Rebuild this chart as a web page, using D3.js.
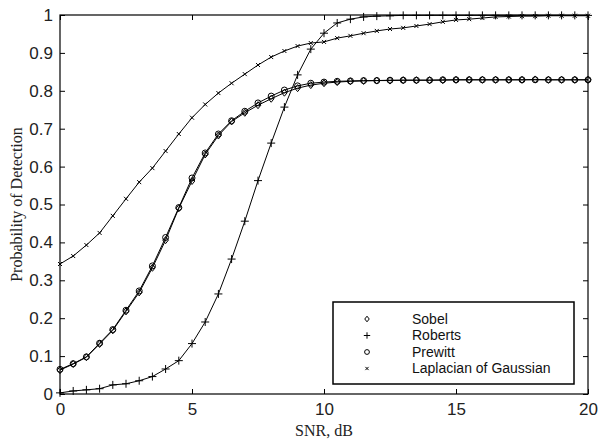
<!DOCTYPE html>
<html>
<head>
<meta charset="utf-8">
<script src="https://cdn.jsdelivr.net/npm/d3@7"></script>
<style>
  body { margin: 0; background: #fff; }
  svg { display: block; }
</style>
</head>
<body>
<div id="chart"></div>
<script>
const snr = [0, 0.5, 1, 1.5, 2, 2.5, 3, 3.5, 4, 4.5, 5, 5.5, 6, 6.5, 7, 7.5, 8, 8.5, 9, 9.5, 10,
  10.5, 11, 11.5, 12, 12.5, 13, 13.5, 14, 14.5, 15, 15.5, 16, 16.5, 17, 17.5, 18, 18.5, 19, 19.5, 20];

const sobel = [0.063, 0.079, 0.097, 0.132, 0.168, 0.218, 0.268, 0.333, 0.406, 0.490, 0.562, 0.632, 0.682,
  0.719, 0.742, 0.762, 0.779, 0.795, 0.807, 0.815, 0.820, 0.823, 0.825, 0.826, 0.827, 0.827, 0.828, 0.828,
  0.828, 0.828, 0.829, 0.829, 0.829, 0.829, 0.829, 0.829, 0.830, 0.829, 0.829, 0.829, 0.829];

const roberts = [0.003, 0.008, 0.011, 0.014, 0.024, 0.027, 0.035, 0.046, 0.066, 0.088, 0.133, 0.19, 0.264,
  0.356, 0.456, 0.563, 0.662, 0.757, 0.842, 0.910, 0.952, 0.979, 0.989, 0.995, 0.997, 0.998, 0.999, 0.999,
  0.999, 0.999, 0.999, 0.999, 0.999, 0.999, 0.999, 0.999, 0.999, 0.999, 0.999, 0.999, 0.999];

const prewitt = [0.065, 0.080, 0.098, 0.134, 0.170, 0.221, 0.272, 0.338, 0.413, 0.492, 0.570, 0.636, 0.686,
  0.721, 0.746, 0.768, 0.786, 0.802, 0.813, 0.820, 0.823, 0.825, 0.826, 0.827, 0.827, 0.828, 0.828, 0.828,
  0.828, 0.829, 0.829, 0.829, 0.829, 0.829, 0.829, 0.829, 0.829, 0.829, 0.829, 0.829, 0.829];

const laplacian = [0.343, 0.364, 0.393, 0.425, 0.470, 0.515, 0.559, 0.596, 0.641, 0.686, 0.729, 0.764, 0.794,
  0.820, 0.844, 0.868, 0.889, 0.905, 0.918, 0.926, 0.929, 0.939, 0.945, 0.952, 0.958, 0.963, 0.966, 0.971,
  0.976, 0.982, 0.987, 0.989, 0.992, 0.995, 0.996, 0.997, 0.997, 0.998, 0.998, 0.998, 0.998];

const seriesNames = ["Sobel", "Roberts", "Prewitt", "Laplacian of Gaussian"];
const seriesMarkers = ["diamond", "plus", "circle", "cross"];
const seriesValues = [sobel, roberts, prewitt, laplacian];

const xTicks = [0, 5, 10, 15, 20];
const yTicks = [0, 0.1, 0.2, 0.3, 0.4, 0.5, 0.6, 0.7, 0.8, 0.9, 1];

const W = 600, H = 442;
const margin = { top: 15, right: 12, bottom: 48, left: 60 };
const width = W - margin.left - margin.right;
const height = H - margin.top - margin.bottom;

const svg = d3.select("#chart")
  .append("svg")
  .attr("width", W)
  .attr("height", H);

const g = svg.append("g")
  .attr("transform", `translate(${margin.left},${margin.top})`);

const x = d3.scaleLinear().domain([0, 20]).range([0, width]);
const y = d3.scaleLinear().domain([0, 1]).range([height, 0]);

// ticks pointing inward on all four sides
function styleAxis(sel) {
  sel.select(".domain").remove();
  sel.selectAll(".tick line").attr("stroke", "#000");
  sel.selectAll(".tick text")
    .attr("fill", "#222")
    .style("font-family", "Liberation Sans, Arial, sans-serif")
    .style("font-size", "17px");
}

g.append("g")
  .attr("transform", `translate(0,${height})`)
  .call(d3.axisBottom(x).tickValues(xTicks).tickSizeInner(-5).tickSizeOuter(0).tickPadding(9).tickFormat(d3.format("d")))
  .call(styleAxis);

g.append("g")
  .call(d3.axisTop(x).tickValues(xTicks).tickSizeInner(-5).tickSizeOuter(0).tickFormat(""))
  .call(styleAxis);

g.append("g")
  .call(d3.axisLeft(y).tickValues(yTicks).tickSizeInner(-5).tickSizeOuter(0).tickPadding(7).tickFormat(d => d === 0 || d === 1 ? d : d3.format(".1f")(d)))
  .call(styleAxis);

g.append("g")
  .attr("transform", `translate(${width},0)`)
  .call(d3.axisRight(y).tickValues(yTicks).tickSizeInner(-5).tickSizeOuter(0).tickFormat(""))
  .call(styleAxis);

// lines
const line = d3.line()
  .x((d, i) => x(snr[i]))
  .y(d => y(d));

seriesValues.forEach(vals => {
  g.append("path")
    .datum(vals)
    .attr("fill", "none")
    .attr("stroke", "#000")
    .attr("stroke-width", 1)
    .attr("d", line);
});

function drawMarker(sel, type, cx, cy, s) {
  if (type === "diamond") {
    sel.append("path")
      .attr("d", `M${cx},${cy - 3.5 * s}L${cx + 2.8 * s},${cy}L${cx},${cy + 3.5 * s}L${cx - 2.8 * s},${cy}Z`)
      .attr("fill", "none").attr("stroke", "#000").attr("stroke-width", 1);
  } else if (type === "circle") {
    sel.append("circle")
      .attr("cx", cx).attr("cy", cy).attr("r", 3 * s)
      .attr("fill", "none").attr("stroke", "#000").attr("stroke-width", 1);
  } else if (type === "plus") {
    sel.append("path")
      .attr("d", `M${cx - 4 * s},${cy}H${cx + 4 * s}M${cx},${cy - 4 * s}V${cy + 4 * s}`)
      .attr("stroke", "#000").attr("stroke-width", 1);
  } else if (type === "cross") {
    sel.append("path")
      .attr("d", `M${cx - 2 * s},${cy - 2 * s}L${cx + 2 * s},${cy + 2 * s}M${cx - 2 * s},${cy + 2 * s}L${cx + 2 * s},${cy - 2 * s}`)
      .attr("stroke", "#000").attr("stroke-width", 1);
  }
}

seriesValues.forEach((vals, k) => {
  const mg = g.append("g");
  vals.forEach((v, i) => drawMarker(mg, seriesMarkers[k], x(snr[i]), y(v), 1));
});

// frame
g.append("rect")
  .attr("width", width)
  .attr("height", height)
  .attr("fill", "none")
  .attr("stroke", "#000")
  .attr("stroke-width", 1.2);

// legend
const lg = svg.append("g").attr("transform", "translate(333,302)");
lg.append("rect")
  .attr("width", 241)
  .attr("height", 82)
  .attr("fill", "#fff")
  .attr("stroke", "#000")
  .attr("stroke-width", 1.5);

seriesNames.forEach((name, k) => {
  const cy = 17 + k * 16.5;
  drawMarker(lg, seriesMarkers[k], 34, cy, 0.8);
  lg.append("text")
    .attr("x", 79)
    .attr("y", cy)
    .attr("dy", "0.35em")
    .style("font-family", "Liberation Sans, Arial, sans-serif")
    .style("font-size", "14px")
    .attr("fill", "#111")
    .text(name);
});

// axis titles
svg.append("text")
  .attr("x", margin.left + width / 2)
  .attr("y", 436)
  .attr("text-anchor", "middle")
  .style("font-family", "Liberation Serif, Times New Roman, serif")
  .style("font-size", "16px")
  .attr("fill", "#222")
  .text("SNR, dB");

svg.append("text")
  .attr("transform", `translate(22,${margin.top + height / 2}) rotate(-90)`)
  .attr("text-anchor", "middle")
  .style("font-family", "Liberation Serif, Times New Roman, serif")
  .style("font-size", "16px")
  .attr("fill", "#222")
  .text("Probability of Detection");
</script>
</body>
</html>
